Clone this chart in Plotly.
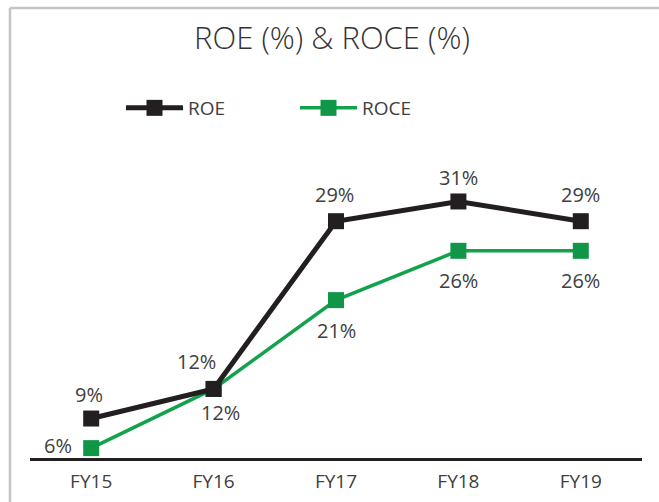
import plotly.graph_objects as go

categories = ["FY15", "FY16", "FY17", "FY18", "FY19"]
roe = [9, 12, 29, 31, 29]
roce = [6, 12, 21, 26, 26]
roe_labels = [f"{v}%" for v in roe]
roce_labels = [f"{v}%" for v in roce]

# label offsets (px) relative to each marker: (xshift, yshift)
roe_offsets = [(-2, 24), (-17, 27), (-2, 27), (0, 24), (0, 27)]
roce_offsets = [(-33, 3), (7, -24), (0, -30), (0, -30), (0, -30)]

BLACK = "#231f20"
GREEN = "#0f9646"
TEXT = "#404040"
FONT = "Open Sans"

fig = go.Figure()
fig.add_trace(go.Scatter(
    x=categories, y=roce, name="ROCE", mode="lines+markers",
    line=dict(color="#12a24c", width=3.5),
    marker=dict(symbol="square", size=16, color=GREEN),
    legendrank=2, cliponaxis=False, hoverinfo="skip",
))
fig.add_trace(go.Scatter(
    x=categories, y=roe, name="ROE", mode="lines+markers",
    line=dict(color=BLACK, width=5),
    marker=dict(symbol="square", size=16, color=BLACK),
    legendrank=1, cliponaxis=False, hoverinfo="skip",
))

annotations = []
for cat, val, lab, (dx, dy) in zip(categories, roe, roe_labels, roe_offsets):
    annotations.append(dict(x=cat, y=val, xref="x", yref="y", text=lab, showarrow=False,
                            xshift=dx, yshift=dy, xanchor="center", yanchor="middle",
                            font=dict(family=FONT, size=20, color=TEXT)))
for cat, val, lab, (dx, dy) in zip(categories, roce, roce_labels, roce_offsets):
    annotations.append(dict(x=cat, y=val, xref="x", yref="y", text=lab, showarrow=False,
                            xshift=dx, yshift=dy, xanchor="center", yanchor="middle",
                            font=dict(family=FONT, size=20, color=TEXT)))

L, R, T, B = 30, 17, 162, 44
W, H = 659, 502
pw, ph = W - L - R, H - T - B

fig.update_layout(
    width=W, height=H, autosize=False,
    margin=dict(l=L, r=R, t=T, b=B, pad=0, autoexpand=False),
    paper_bgcolor="white", plot_bgcolor="white",
    title=dict(text="ROE (%) & ROCE (%)", x=332 / W, xanchor="center",
               y=1 - 38 / H, yanchor="middle",
               font=dict(family=FONT, size=31, color="#333333", weight=300)),
    showlegend=True,
    legend=dict(orientation="h", x=(121 - L) / pw, xanchor="left",
                y=(458 - 108) / ph, yanchor="middle",
                itemwidth=57, entrywidth=102, entrywidthmode="pixels",
                font=dict(family=FONT, size=19, color=TEXT),
                bgcolor="rgba(0,0,0,0)"),
    xaxis=dict(type="category", range=[-0.5, 4.5], showgrid=False, zeroline=False,
               showline=True, linecolor=BLACK, linewidth=2.5, ticks="",
               tickfont=dict(family=FONT, size=19, color=TEXT), ticklabelstandoff=4,
               automargin=False),
    yaxis=dict(range=[5, 35], visible=False, showgrid=False, zeroline=False, automargin=False),
    annotations=annotations,
    shapes=[
        dict(type="line", xref="paper", yref="paper",
             x0=(10 - L) / pw, x1=(10 - L) / pw, y0=(458 - 8) / ph, y1=(458 - 505) / ph,
             line=dict(color="#c4c4c4", width=2.5)),
        dict(type="line", xref="paper", yref="paper",
             x0=(10 - L) / pw, x1=(665 - L) / pw, y0=(458 - 8) / ph, y1=(458 - 8) / ph,
             line=dict(color="#c4c4c4", width=2.5)),
    ],
)

fig.write_html("out.html", post_script="document.body.style.margin='0';",
               config={"displayModeBar": False})
